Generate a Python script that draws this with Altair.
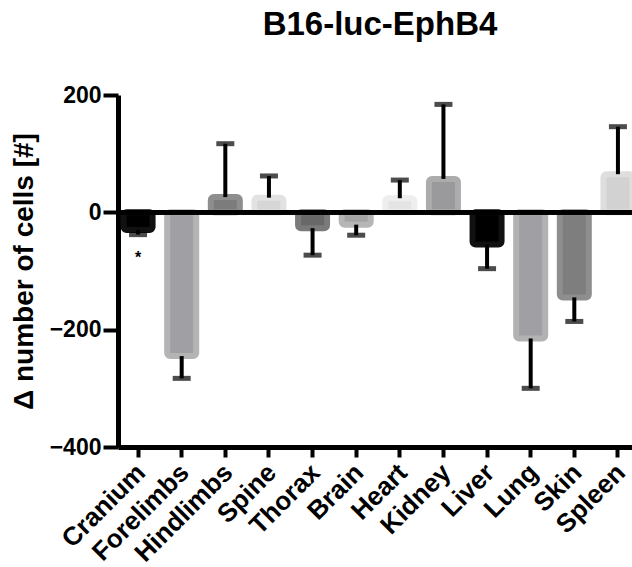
import altair as alt
import pandas as pd

organs = ["Cranium", "Forelimbs", "Hindlimbs", "Spine", "Thorax", "Brain",
          "Heart", "Kidney", "Liver", "Lung", "Skin", "Spleen"]
means = [-30, -245, 26, 25, -27, -21, 24, 57, -55, -215, -145, 65]
errors = [8, 38, 91, 37, 46, 18, 31, 127, 41, 85, 41, 81]
fills = ["#000000", "#a0a0a4", "#7c7c7c", "#d6d6d6", "#686868", "#a4a4a4",
         "#e4e4e4", "#9a9a9c", "#000000", "#a0a0a4", "#7e7e7e", "#d2d2d2"]
rims = ["#111111", "#b4b4b4", "#8e8e8e", "#e2e2e2", "#7a7a7a", "#b6b6b6",
        "#eeeeee", "#acacac", "#111111", "#b2b2b2", "#8e8e8e", "#dedede"]
star_organ = ["Cranium"]
star_y = [-78]

df = pd.DataFrame({"organ": organs, "mean": means, "err": errors,
                   "fill": fills, "rim": rims})
df["end"] = [m + (e if m >= 0 else -e) for m, e in zip(means, errors)]
stars = pd.DataFrame({"organ": star_organ, "y": star_y, "t": ["*"]})

FONT = "Liberation Sans"

x = alt.X("organ:N", sort=organs, title=None,
          scale=alt.Scale(range=[0, 520], paddingInner=0.2, paddingOuter=0.06),
          axis=alt.Axis(labelAngle=-45, labelFont=FONT, labelFontSize=26,
                        labelFontWeight="bold", labelColor="black",
                        tickSize=10, tickWidth=4, tickColor="black",
                        domainWidth=5, domainColor="black", labelPadding=2,
                        labelOffset=-6))
y = alt.Y("mean:Q", title="Δ number of cells [#]",
          scale=alt.Scale(domain=[-400, 200], nice=False, zero=False),
          axis=alt.Axis(values=[-400, -200, 0, 200], grid=False,
                        labelFont=FONT, labelFontSize=23, labelFontWeight="bold",
                        labelColor="black", tickSize=15, tickWidth=4,
                        tickColor="black", domainWidth=5, domainColor="black",
                        labelPadding=2, titleFont=FONT, titleFontSize=28,
                        titleFontWeight="bold", titleColor="black",
                        titlePadding=11))

base = alt.Chart(df)

bars = base.mark_bar(size=29, strokeWidth=6, cornerRadius=3).encode(
    x=x, y=y, y2=alt.datum(0),
    fill=alt.Fill("fill:N", scale=None),
    stroke=alt.Stroke("rim:N", scale=None),
)

err_line = base.mark_rule(color="black", strokeWidth=4).encode(
    x=alt.X("organ:N", sort=organs), y="mean:Q", y2="end:Q")

caps = base.mark_tick(color="black", size=18, thickness=5).encode(
    x=alt.X("organ:N", sort=organs), y="end:Q")

zero = alt.Chart(df).mark_rule(color="black", strokeWidth=4).encode(
    y=alt.datum(0))

star = alt.Chart(stars).mark_text(fontSize=16, font=FONT, fontWeight="bold",
                                  color="black", baseline="middle").encode(
    x=alt.X("organ:N", sort=organs), y="y:Q", text="t:N")

chart = alt.layer(bars, err_line, caps, zero, star).properties(
    width=514, height=352,
    autosize=alt.AutoSizeParams(type="none"),
    padding={"left": 118, "top": 95, "right": 0, "bottom": 120},
    title=alt.TitleParams("B16-luc-EphB4", font=FONT, fontSize=33,
                          fontWeight="bold", color="black", anchor="middle",
                          baseline="bottom", offset=38, dx=5, dy=29),
).configure_view(stroke=None)

chart.save("out.html", embed_options={"renderer": "svg", "actions": False})
